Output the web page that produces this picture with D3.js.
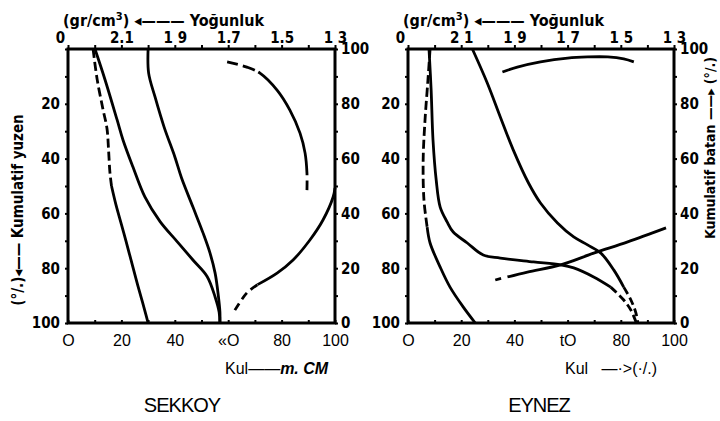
<!DOCTYPE html>
<html lang="tr">
<head>
<meta charset="utf-8">
<title>Sekkoy / Eynez</title>
<script src="https://cdn.jsdelivr.net/npm/d3@7"></script>
<style>
  body { margin: 0; background: #fff; }
  .frame { fill: none; stroke: #000; stroke-width: 3px; }
  .curve { fill: none; stroke: #000; stroke-width: 2.8px; stroke-linecap: butt; stroke-linejoin: round; }
  .scan { font-family: "Liberation Sans Narrow", "DejaVu Sans Condensed", sans-serif; font-weight: bold; font-size: 15px; }
  .title { font-size: 16px; }
  .print { font-family: "Liberation Sans", Arial, sans-serif; font-size: 16px; }
  .axis .tick line { stroke: #000; stroke-width: 2px; }
</style>
</head>
<body>
<script>
// tick values and labels
var xTicks = [0, 20, 40, 60, 80, 100];
var minorTicks = [0, 10, 20, 30, 40, 50, 60, 70, 80, 90, 100];
var leftTicks = [20, 40, 60, 80, 100];
var rightTicks = [100, 80, 60, 40, 20, 0];
var sekTopLabels = ["0", "2.1", "1 9", "1.7", "1.5", "1 3"];
var eynTopLabels = ["0", "2 1", "1 9", "1 7", "1 5", "1 3"];
var sekBotLabels = ["O", "20", "40", "«O", "80", "100"];
var eynBotLabels = ["O", "20", "40", "tO", "80", "100"];

// Sekkoy curves: [kumulatif, yuzen % (sol eksen)]
var sekA1 = [[9.4,0],[10.9,11],[13.1,22],[14.6,29],[15.2,37],[15.7,45],[16.3,50]];
var sekA2 = [[16.3,50],[18,57],[20,64],[21.7,70],[23.6,77],[25.5,84],[27.5,91],[29.2,97],[30,100]];
var sekB = [[10.1,0],[13.9,11.3],[18.4,25.9],[20.6,33.2],[24.3,43],[28.8,54],[34.5,63],[40.8,70.2],[46.8,77],[52.1,83],[55.1,90.5],[56.6,96],[56.9,100]];
var sekC = [[30,0],[30.2,8.8],[32.6,17.5],[36,28.5],[40,39.3],[42.5,47],[46.8,57.7],[50.6,67.2],[53.2,74.5],[55.1,81.8],[56.3,90],[56.9,96],[56.9,100]];
// Sekkoy curves: [kumulatif, batan % (sag eksen)]
var sekD = [[59.6,95.3],[67,93.4],[71.9,91.2],[78.3,85],[83.1,77.7],[86.9,69.3],[88.8,62],[89.5,54.7],[89.5,48.5]];
var sekE1 = [[62.5,4.7],[67,11],[71,14]];
var sekE2 = [[71,14],[78.3,18.2],[84.3,23],[90.6,30.3],[95.5,37.6],[99.3,46],[100,49.3]];

// Eynez curves: [kumulatif, yuzen % (sol eksen)]
var eynA1 = [[8.3,0],[7.5,11.3],[6.4,25.9],[5.7,40.5],[6,55.1],[7.2,65]];
var eynA2 = [[7.2,65],[8.3,70.8],[12.1,79.6],[15.8,86.9],[20.8,94.2],[25.3,100]];
var eynB1 = [[7.9,0],[8.7,15],[9.4,33.2],[10.6,47.8],[12.1,57.7],[14.7,63.1],[17,66.8],[22.3,70.8],[28.3,75.2],[34.7,76.3],[47.2,77.7],[57.4,78.8],[62.3,79.9],[69.8,83.2],[76.2,86.9]];
var eynB2 = [[76.2,86.9],[81.1,91.6],[83.8,95.3],[85.7,99.6]];
var eynC1 = [[24.2,0],[29.8,12.4],[34.7,24.8],[39.6,36.9],[45.3,48.9],[49.8,56.2],[56.2,63.5],[62.3,68.6],[67.5,71.5],[72.5,74.5],[77.4,80.7],[81.1,86.9]];
var eynC2 = [[81.1,86.9],[83.8,91.6],[85.7,96.4],[86.4,100]];
// Eynez curves: [kumulatif, batan % (sag eksen)]
var eynD = [[35.5,91.6],[41.1,93.4],[49.8,95.3],[60,96.7],[67.5,97.1],[75.1,97.1],[81.1,96.4],[84.9,95.3]];
var eynE1 = [[32.8,15.7],[35,16.3]];
var eynE2 = [[37.4,16.8],[44.9,18.6],[57.4,21.2],[69.8,25.5],[82.6,29.6],[97,34.7]];

var top0 = 49, bottom0 = 323;

var panels = [
  { name: "SEKKOY", x0: 68, x1: 335, nameX: 182, topLabels: sekTopLabels, botLabels: sekBotLabels,
    curves: [
      { data: sekA1, axis: "L", dash: "9,4" },
      { data: sekA2, axis: "L" },
      { data: sekB, axis: "L" },
      { data: sekC, axis: "L" },
      { data: sekD, axis: "R", dash: "11,5,13,4,118,5,12,5,30" },
      { data: sekE1, axis: "R", dash: "8,5" },
      { data: sekE2, axis: "R" }
    ] },
  { name: "EYNEZ", x0: 408, x1: 674, nameX: 539, topLabels: eynTopLabels, botLabels: eynBotLabels,
    curves: [
      { data: eynA1, axis: "L", dash: "9,4" },
      { data: eynA2, axis: "L" },
      { data: eynB1, axis: "L" },
      { data: eynB2, axis: "L", dash: "8,4" },
      { data: eynC1, axis: "L" },
      { data: eynC2, axis: "L", dash: "8,4" },
      { data: eynD, axis: "R" },
      { data: eynE1, axis: "R" },
      { data: eynE2, axis: "R" }
    ] }
];

var svg = d3.select("body").append("svg")
    .attr("width", 720)
    .attr("height", 421);

var yL = d3.scaleLinear().domain([0, 100]).range([top0, bottom0]);
var yR = d3.scaleLinear().domain([100, 0]).range([top0, bottom0]);

function cleanAxis(g) {
  g.select(".domain").remove();
  g.attr("font-family", null).attr("font-size", null);
}

panels.forEach(function(p) {
  var x = d3.scaleLinear().domain([0, 100]).range([p.x0, p.x1]);

  // curves
  p.curves.forEach(function(c) {
    var y = c.axis === "L" ? yL : yR;
    var line = d3.line()
        .x(function(d) { return x(d[0]); })
        .y(function(d) { return y(d[1]); })
        .curve(d3.curveCatmullRom.alpha(0.5));
    svg.append("path")
        .attr("class", "curve")
        .attr("stroke-dasharray", c.dash || null)
        .attr("d", line(c.data));
  });

  // frame
  svg.append("rect")
      .attr("class", "frame")
      .attr("x", p.x0).attr("y", top0)
      .attr("width", p.x1 - p.x0).attr("height", bottom0 - top0);

  // minor ticks
  svg.append("g").attr("class", "axis")
      .attr("transform", "translate(0," + top0 + ")")
      .call(d3.axisTop(x).tickValues(minorTicks).tickSize(4).tickFormat(""))
      .call(cleanAxis);
  svg.append("g").attr("class", "axis")
      .attr("transform", "translate(0," + bottom0 + ")")
      .call(d3.axisTop(x).tickValues(minorTicks).tickSize(3).tickFormat(""))
      .call(cleanAxis);
  svg.append("g").attr("class", "axis")
      .attr("transform", "translate(" + p.x0 + ",0)")
      .call(d3.axisLeft(yL).tickValues(minorTicks).tickSize(3).tickFormat(""))
      .call(cleanAxis);
  svg.append("g").attr("class", "axis")
      .attr("transform", "translate(" + p.x1 + ",0)")
      .call(d3.axisRight(yL).tickValues(minorTicks).tickSize(3).tickFormat(""))
      .call(cleanAxis);

  // top density labels
  var gTop = svg.append("g").attr("class", "axis scan")
      .attr("transform", "translate(0," + top0 + ")")
      .call(d3.axisTop(x).tickValues(xTicks).tickSize(0).tickPadding(6)
        .tickFormat(function(d, i) { return p.topLabels[i]; }))
      .call(cleanAxis);
  gTop.selectAll("text").attr("dx", function(d, i) { return i === 0 ? -8 : 0; });

  // bottom labels
  svg.append("g").attr("class", "axis print")
      .attr("transform", "translate(0," + bottom0 + ")")
      .call(d3.axisBottom(x).tickValues(xTicks).tickSize(0).tickPadding(12)
        .tickFormat(function(d, i) { return p.botLabels[i]; }))
      .call(cleanAxis);

  // left labels (yuzen)
  svg.append("g").attr("class", "axis scan")
      .attr("transform", "translate(" + p.x0 + ",0)")
      .call(d3.axisLeft(yL).tickValues(leftTicks).tickSize(0).tickPadding(8))
      .call(cleanAxis);

  // right labels (batan)
  svg.append("g").attr("class", "axis scan")
      .attr("transform", "translate(" + p.x1 + ",0)")
      .call(d3.axisRight(yR).tickValues(rightTicks).tickSize(0).tickPadding(6))
      .call(cleanAxis);

  // density title
  var t = svg.append("text").attr("class", "scan title")
      .attr("x", p.x0 - 5).attr("y", 26);
  t.append("tspan").text("(gr/cm");
  t.append("tspan").attr("dy", -6).style("font-size", "11px").text("3");
  t.append("tspan").attr("dy", 6).text(") \u25C2\u2014\u2014\u2014 Yo\u011Funluk");

  // site name
  svg.append("text").attr("class", "print")
      .attr("x", p.nameX).attr("y", 412)
      .attr("text-anchor", "middle")
      .style("font-size", "20px")
      .attr("letter-spacing", -1)
      .text(p.name);
});

// side titles
svg.append("text").attr("class", "scan")
    .attr("transform", "translate(23,210) rotate(-90)")
    .attr("text-anchor", "middle")
    .text("(\u00B0/.)\u25C2\u2014\u2014 Kumulatif yuzen");

svg.append("text").attr("class", "scan")
    .attr("transform", "translate(715,148) rotate(-90)")
    .attr("text-anchor", "middle")
    .style("font-size", "14px")
    .text("Kumulatif batan \u2014\u2014\u25B8 (\u00B0/.)");

// bottom captions
var k1 = svg.append("text").attr("class", "print").attr("x", 225).attr("y", 374);
k1.append("tspan").text("Kul\u2014\u2014");
k1.append("tspan").attr("font-weight", "bold").attr("font-style", "italic").text("m. CM");

svg.append("text").attr("class", "print")
    .attr("x", 565).attr("y", 374)
    .attr("xml:space", "preserve")
    .style("white-space", "pre")
    .text("Kul   \u2014\u00B7>(\u00B7/.)");
</script>
</body>
</html>
